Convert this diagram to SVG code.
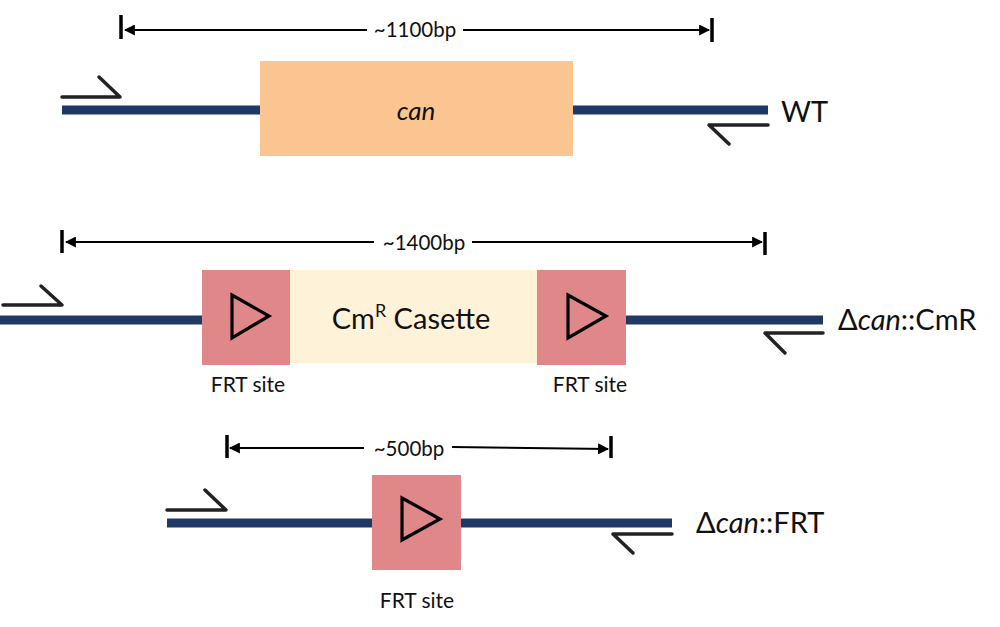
<svg xmlns="http://www.w3.org/2000/svg" width="1000" height="627" viewBox="0 0 1000 627">
<style>
text{font-family:Lato,"Open Sans","DejaVu Sans",sans-serif;fill:#111}
.dna{stroke:#1F3864;stroke-width:9;fill:none}
.primer{stroke:#222;stroke-width:3.5;fill:none;stroke-linecap:round;stroke-linejoin:round}
.dim{stroke:#000;stroke-width:2;fill:none}
.tick{stroke:#000;stroke-width:3.5;fill:none}
.frt{fill:#E0878A}
.tri{fill:none;stroke:#000;stroke-width:3.2;stroke-linejoin:miter}
.lbl{font-size:29px}
.site{font-size:21px;text-anchor:middle}
.bp{font-size:20.5px;text-anchor:middle}
</style>
<defs>
<marker id="ah" viewBox="0 0 10 10" refX="9" refY="5" markerWidth="5.5" markerHeight="5.5" orient="auto" markerUnits="strokeWidth">
<path d="M0,0 L10,5 L0,10 z" fill="#000"/>
</marker>
</defs>
<g id="connectors">
<path class="dim" d="M367,30 L125,30" marker-end="url(#ah)"/>
<path class="dim" d="M463,30 L709,30" marker-end="url(#ah)"/>
<path class="dim" d="M374,242 L66,242" marker-end="url(#ah)"/>
<path class="dim" d="M472,242 L762,242" marker-end="url(#ah)"/>
<path class="dim" d="M364,448 L230,448" marker-end="url(#ah)"/>
<path class="dim" d="M452,447 L608,449" marker-end="url(#ah)"/>
</g>
<g id="row1">
<line class="tick" x1="121" y1="15" x2="121" y2="39"/>
<line class="tick" x1="712" y1="18" x2="712" y2="42"/>
<text class="bp" x="415" y="37">~1100bp</text>
<line class="dna" x1="62" y1="110" x2="262" y2="110"/>
<line class="dna" x1="571" y1="110" x2="768" y2="110"/>
<path class="primer" d="M62,97 L120,97 L99,77"/>
<path class="primer" d="M768,125 L709,125 L729,144"/>
<g id="can">
<rect x="260" y="61" width="313" height="95" fill="#FAC591"/>
<text x="416" y="120" font-size="26" font-style="italic" text-anchor="middle">can</text>
</g>
<text class="lbl" x="781" y="122">WT</text>
</g>
<g id="row2">
<line class="tick" x1="62" y1="230" x2="62" y2="253"/>
<line class="tick" x1="765" y1="232" x2="765" y2="255"/>
<text class="bp" x="424" y="250">~1400bp</text>
<line class="dna" x1="0" y1="320" x2="204" y2="320"/>
<line class="dna" x1="624" y1="320" x2="823" y2="320"/>
<path class="primer" d="M3,305 L62,305 L41,286"/>
<path class="primer" d="M823,333 L765,333 L785,353"/>
<g id="casette">
<rect x="290" y="270" width="247" height="93" fill="#FEF2D9"/>
<text x="411" y="329" font-size="29" text-anchor="middle">Cm<tspan dy="-12" font-size="18">R</tspan><tspan dy="12"> Casette</tspan></text>
</g>
<g id="frt1">
<rect class="frt" x="202" y="270" width="88" height="95"/>
<path class="tri" d="M232,295 L232,338 L269,316 z"/>
<text class="site" x="248" y="392">FRT site</text>
</g>
<g id="frt2">
<rect class="frt" x="537" y="270" width="89" height="95"/>
<path class="tri" d="M568,295 L568,338 L606,316 z"/>
<text class="site" x="590" y="392">FRT site</text>
</g>
<text class="lbl" x="838" y="330">Δ<tspan font-style="italic">can</tspan>::CmR</text>
</g>
<g id="row3">
<line class="tick" x1="227" y1="435" x2="227" y2="458"/>
<line class="tick" x1="611" y1="436" x2="611" y2="458"/>
<text class="bp" x="409" y="456">~500bp</text>
<line class="dna" x1="167" y1="523" x2="374" y2="523"/>
<line class="dna" x1="459" y1="523" x2="672" y2="523"/>
<path class="primer" d="M167,510 L226,510 L205,490"/>
<path class="primer" d="M672,534 L613,534 L633,553"/>
<g id="frt3">
<rect class="frt" x="372" y="475" width="89" height="95"/>
<path class="tri" d="M402,498 L402,540 L440,519 z"/>
<text class="site" x="417" y="608">FRT site</text>
</g>
<text class="lbl" x="696" y="533">Δ<tspan font-style="italic">can</tspan>::FRT</text>
</g>
</svg>
